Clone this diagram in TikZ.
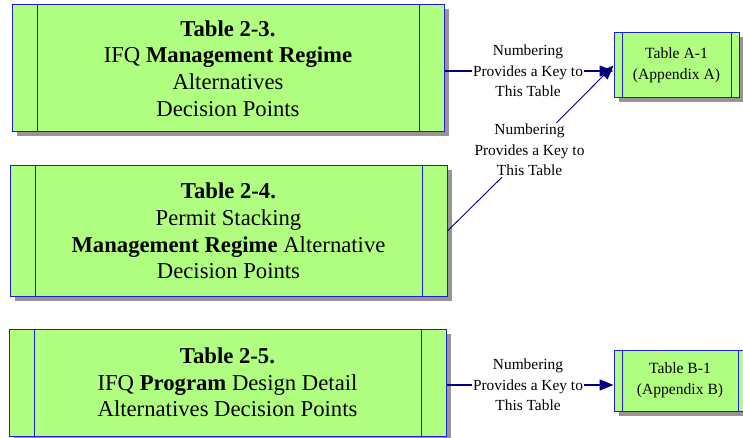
\documentclass[tikz,border=0pt]{standalone}
\usepackage{fontspec}
\setmainfont{Liberation Serif}
\usetikzlibrary{shadows,arrows.meta}

\definecolor{boxgreen}{RGB}{176,255,128}
\definecolor{boxblue}{RGB}{30,30,220}
\definecolor{linknavy}{RGB}{0,0,128}
\definecolor{shadowgray}{RGB}{155,148,148}

\begin{document}
\begin{tikzpicture}[x=1pt, y=-1pt,
  tablebox/.style={rectangle, draw=boxblue, fill=boxgreen, line width=1pt,
    inner sep=0pt, align=center,
    drop shadow={shadow xshift=4.5pt, shadow yshift=-4.5pt, fill=shadowgray, opacity=1},
    path picture={
      \draw[boxblue, line width=1pt]
        ([xshift=#1]path picture bounding box.north west) -- ([xshift=#1]path picture bounding box.south west)
        ([xshift=-#1]path picture bounding box.north east) -- ([xshift=-#1]path picture bounding box.south east);
    }},
  bigbox/.style={tablebox=25, font=\fontsize{22.7}{26.7}\selectfont},
  smallbox/.style={tablebox=8, font=\fontsize{15.6}{20.7}\selectfont},
  keylabel/.style={inner sep=1pt, align=center, font=\fontsize{15.4}{20.5}\selectfont},
  keylink/.style={draw=linknavy, line width=1.6pt},
  keytip/.style={-{Triangle[length=14pt,width=11pt]}}]

\useasboundingbox (0,0) rectangle (743,438);
\fill[white] (0,0) rectangle (743,438);

% main tables
\node [bigbox, minimum width=432pt, minimum height=127pt] (t23) at (228,68.5)
  {\textbf{Table 2-3.}\\IFQ \textbf{Management Regime}\\Alternatives\\Decision Points};
\node [bigbox, minimum width=437pt, minimum height=130pt] (t24) at (228.5,231)
  {\textbf{Table 2-4.}\\Permit Stacking\\\textbf{Management Regime} Alternative\\Decision Points};
\node [bigbox, minimum width=437pt, minimum height=107pt] (t25) at (227.5,382.5)
  {\textbf{Table 2-5.}\\IFQ \textbf{Program} Design Detail\\Alternatives Decision Points};

% appendix tables
\node [smallbox, minimum width=125pt, minimum height=65pt] (tA) at (676.5,65.5)
  {Table A-1\\(Appendix A)};
\node [smallbox, minimum width=132pt, minimum height=61pt] (tB) at (680,380.5)
  {Table B-1\\(Appendix B)};

% key labels
\node [keylabel] (key1) at (528,71) {Numbering\\Provides a Key to\\This Table};
\node [keylabel] (key2) at (529.5,150) {Numbering\\Provides a Key to\\This Table};
\node [keylabel] (key3) at (528,385) {Numbering\\Provides a Key to\\This Table};

\draw[keylink] (key1 -| t23.east) -- (key1);
\draw[keylink, keytip] (key1) -- (key1 -| tA.west);

\draw[keylink, line width=0.9pt] (t24.east) -- (key2);
\draw[keylink, line width=0.9pt, keytip] (key2) -- (tA.west);

\draw[keylink] (key3 -| t25.east) -- (key3);
\draw[keylink, keytip] (key3) -- (key3 -| tB.west);

\end{tikzpicture}
\end{document}
